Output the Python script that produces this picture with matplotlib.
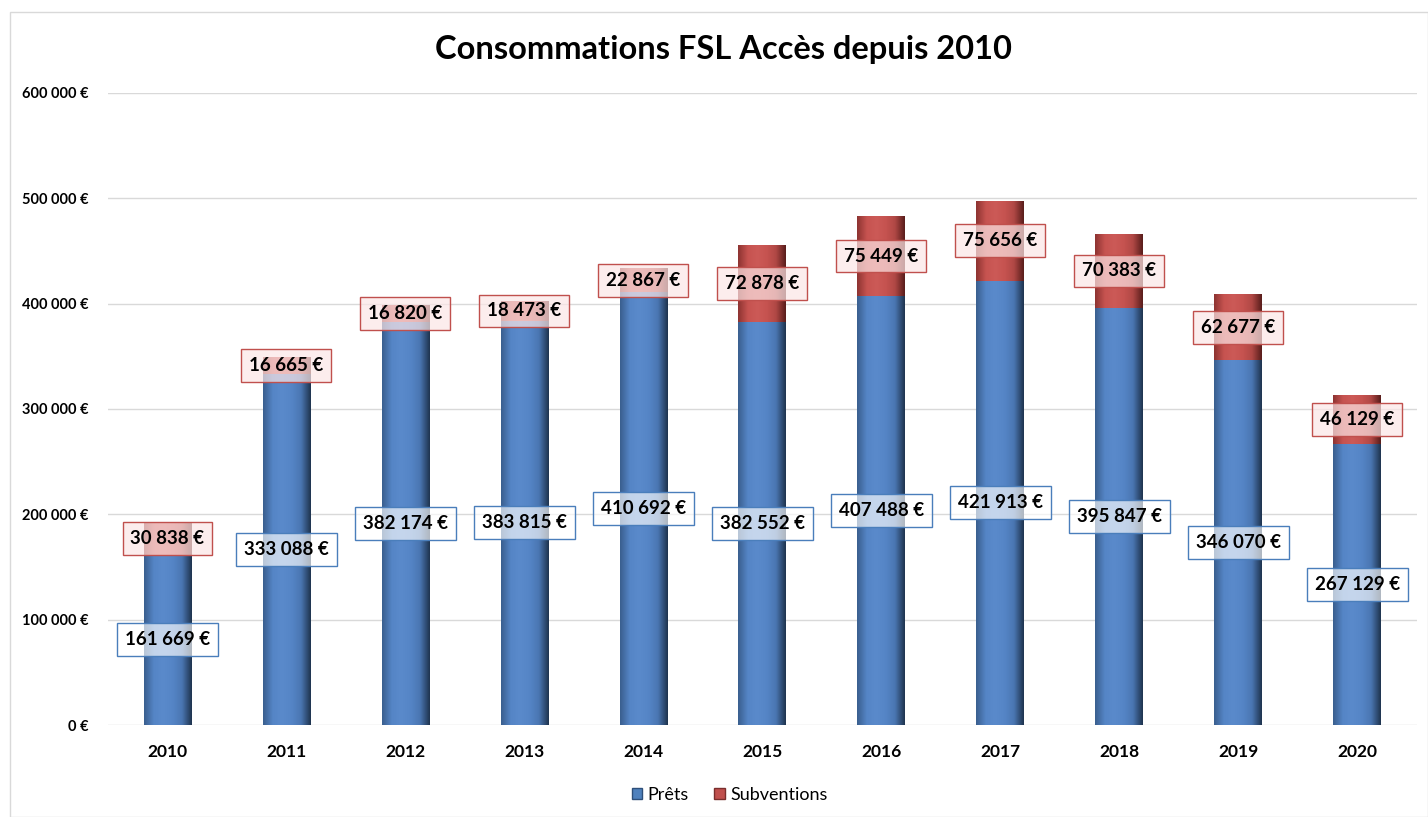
import numpy as np
import matplotlib
matplotlib.use("Agg")
from matplotlib import pyplot as plt
from matplotlib.colors import LinearSegmentedColormap
from matplotlib.patches import Rectangle
from matplotlib.ticker import FuncFormatter

plt.rcParams["font.family"] = ["Lato", "DejaVu Sans"]

years = ["2010", "2011", "2012", "2013", "2014", "2015", "2016", "2017", "2018", "2019", "2020"]
prets = [161669, 333088, 382174, 383815, 410692, 382552, 407488, 421913, 395847, 346070, 267129]
subventions = [30838, 16665, 16820, 18473, 22867, 72878, 75449, 75656, 70383, 62677, 46129]

BLUE = "#4F81BD"
RED = "#C0504D"


def euro(v, _=None):
    return f"{int(v):,}".replace(",", " ") + " €"


def shade(ax, bars, colors):
    cmap = LinearSegmentedColormap.from_list("bar", colors)
    grad = np.linspace(0, 1, 64).reshape(1, -1)
    for patch in bars:
        x0, y0 = patch.get_x(), patch.get_y()
        w, h = patch.get_width(), patch.get_height()
        im = ax.imshow(grad, extent=(x0, x0 + w, y0, y0 + h), aspect="auto",
                       cmap=cmap, zorder=patch.get_zorder(), interpolation="bicubic")
        im.set_clip_path(patch)


fig = plt.figure(figsize=(14.28, 8.17), dpi=100)
ax = fig.add_axes((0.0756, 0.1126, 0.9164, 0.7736))

x = np.arange(len(years))
width = 0.4
b1 = ax.bar(x, prets, width, color=BLUE, zorder=2)
b2 = ax.bar(x, subventions, width, bottom=prets, color=RED, zorder=2)
shade(ax, b1, ["#3a5f8f", "#5585c6", "#5a8acb", "#5585c6", "#4a76b2", "#1f3550"])
shade(ax, b2, ["#8e3432", "#c65350", "#cc5a57", "#c65350", "#b04845", "#5a1e1c"])

for xi, p, s in zip(x, prets, subventions):
    ax.text(xi, p / 2, euro(p), ha="center", va="center", fontsize=13.5,
            fontweight="bold", zorder=4,
            bbox=dict(boxstyle="square,pad=0.42", fc=(1, 1, 1, 0.65), ec="#4a7ebb", lw=1))
    ax.text(xi, p + s / 2, euro(s), ha="center", va="center", fontsize=13.5,
            fontweight="bold", zorder=4,
            bbox=dict(boxstyle="square,pad=0.42", fc=(0.99, 0.9, 0.9, 0.7), ec="#c0504d", lw=1))

ax.set_xlim(-0.5, len(years) - 0.5)
ax.set_ylim(0, 600000)
ax.set_yticks(np.arange(0, 600001, 100000))
ax.yaxis.set_major_formatter(FuncFormatter(euro))
ax.set_xticks(x, years)
ax.grid(axis="y", color="#d9d9d9", lw=1, zorder=0)
ax.set_axisbelow(True)
for sp in ax.spines.values():
    sp.set_visible(False)
ax.tick_params(axis="both", length=0)
ax.tick_params(axis="y", pad=14, labelsize=10.5)
ax.tick_params(axis="x", pad=14, labelsize=12.5)
for lab in ax.get_xticklabels() + ax.get_yticklabels():
    lab.set_fontweight("bold")

fig.text(0.507, 0.94, "Consommations FSL Accès depuis 2010", ha="center", va="center",
         fontsize=23.5, fontweight="bold")

handles = [Rectangle((0, 0), 1, 1, fc=BLUE, ec="#2e4f7a"),
           Rectangle((0, 0), 1, 1, fc=RED, ec="#7a2e2c")]
fig.legend(handles, ["Prêts", "Subventions"], loc="center", bbox_to_anchor=(0.511, 0.027),
           ncol=2, frameon=False, fontsize=13, handlelength=0.6, handleheight=0.6,
           handletextpad=0.3, columnspacing=1.4)

fig.patches.append(Rectangle((0.007, 0.0), 0.993, 0.985, transform=fig.transFigure,
                             fill=False, ec="#d9d9d9", lw=1))

fig.savefig("out.png", dpi=100)
